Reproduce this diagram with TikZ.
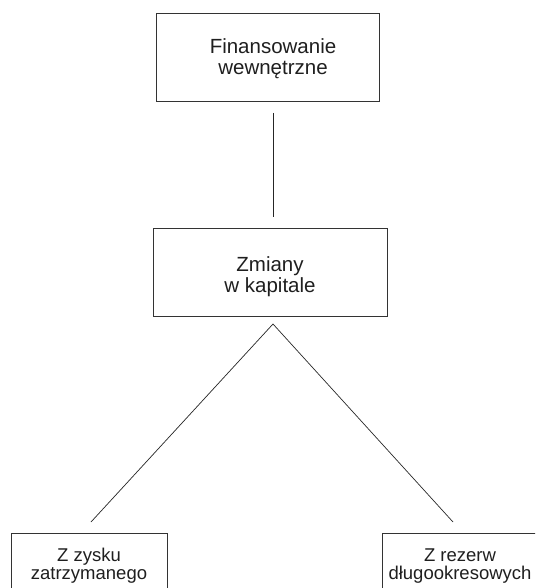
\documentclass[tikz,border=0pt]{standalone}
\usepackage{fontspec}
\setmainfont{Liberation Sans}
\begin{document}
\begin{tikzpicture}[x=1pt,y=-1pt,
  box/.style={draw=black!80, line width=0.9pt, inner sep=0pt},
  conn/.style={draw=black!85, line width=0.7pt},
  lbl/.style={align=center, text=black!88, inner sep=0pt, font=\fontsize{20.5}{21}\selectfont},
  lbls/.style={align=center, text=black!88, inner sep=0pt, font=\fontsize{18.5}{18.3}\selectfont}]
\useasboundingbox (0,0) rectangle (535,588);
\fill[white] (0,0) rectangle (535,588);
\clip (0,0) rectangle (535,588);
% boxes
\node[box, minimum width=223pt, minimum height=88pt] (top) at (267.5,57) {};
\node[box, minimum width=234pt, minimum height=88pt] (mid) at (270,272) {};
\node[box, minimum width=156pt, minimum height=87pt] (bl) at (89,576.5) {};
\node[box, minimum width=156pt, minimum height=87pt] (br) at (460,576.5) {};
% texts
\node[lbl] (ttop) at (273,59) {Finansowanie\\wewnętrzne};
\node[lbl] (tmid) at (270,277) {Zmiany\\w kapitale};
\node[lbls] (tbl) at (89,566) {Z zysku\\zatrzymanego};
\node[lbls] (tbr) at (460,566) {Z rezerw\\długookresowych};
% connectors
\coordinate (a1) at (273,113);
\coordinate (a2) at (273,217);
\coordinate (apex) at (273,324);
\coordinate (l1) at (91,522);
\coordinate (r1) at (453,522);
\draw[conn] (a1) -- (a2);
\draw[conn] (l1) -- (apex) -- (r1);
\end{tikzpicture}
\end{document}
